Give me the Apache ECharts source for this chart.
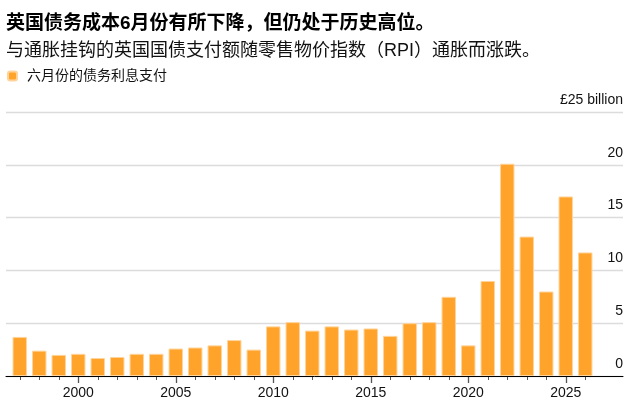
<!DOCTYPE html>
<html>
<head>
<meta charset="utf-8">
<script src="https://cdn.jsdelivr.net/npm/echarts@6/dist/echarts.min.js"></script>
<style>
  html, body { margin: 0; padding: 0; background: #fff; }
  #main { width: 640px; height: 414px; }
</style>
</head>
<body>
<div id="main"></div>
<script>
  // 六月份债务利息支付（十亿英镑）
  var years = ['1997', '1998', '1999', '2000', '2001', '2002', '2003', '2004', '2005', '2006',
    '2007', '2008', '2009', '2010', '2011', '2012', '2013', '2014', '2015', '2016',
    '2017', '2018', '2019', '2020', '2021', '2022', '2023', '2024', '2025', '2026']
  var interest = [3.7, 2.4, 2.0, 2.1, 1.7, 1.8, 2.1, 2.1, 2.6, 2.7,
    2.9, 3.4, 2.5, 4.7, 5.1, 4.3, 4.7, 4.4, 4.5, 3.8,
    5.0, 5.1, 7.5, 2.9, 9.0, 20.1, 13.2, 8.0, 17.0, 11.7]
  var yTicks = [0, 5, 10, 15, 20, 25]

  var font = '"Liberation Sans", "Noto Sans CJK SC", sans-serif'
  var orange = '#FFA32B'

  var chart = echarts.init(document.getElementById('main'))
  chart.setOption({
    animation: false,
    textStyle: { fontFamily: font },
    title: [
      {
        text: '英国债务成本6月份有所下降，但仍处于历史高位。',
        left: 6, top: 14, padding: 0,
        textStyle: { fontSize: 19, fontWeight: 'bold', color: '#000', fontFamily: font }
      },
      {
        text: '与通胀挂钩的英国国债支付额随零售物价指数（RPI）通胀而涨跌。',
        left: 6, top: 42, padding: 0,
        textStyle: { fontSize: 18, fontWeight: 'normal', color: '#111', fontFamily: font }
      }
    ],
    legend: {
      left: 7, top: 69, padding: 0,
      icon: 'roundRect', itemWidth: 9, itemHeight: 9,
      selectedMode: false,
      textStyle: { fontSize: 14, color: '#111', padding: [0, 0, 0, 5] },
      data: ['六月份的债务利息支付']
    },
    grid: [
      { left: 6, right: 17, top: 112, bottom: 38 },
      { left: 10, width: 585, top: 112, bottom: 38 }
    ],
    xAxis: [
      {
        gridIndex: 0, type: 'value', min: 0, max: 1, z: 5,
        axisLine: { show: true, lineStyle: { color: '#000', width: 1 } },
        axisTick: { show: false }, axisLabel: { show: false }, splitLine: { show: false }
      },
      {
        gridIndex: 1, type: 'category', data: years,
        axisLine: { show: false },
        axisTick: { show: true, alignWithLabel: true, interval: 0, length: 4, lineStyle: { color: '#555', width: 1 } },
        axisLabel: {
          interval: function (i, v) { return +v % 5 === 0 },
          margin: 10, fontSize: 14, color: '#111'
        }
      },
      {
        gridIndex: 1, type: 'category', data: years, position: 'bottom',
        axisLine: { show: false },
        axisTick: {
          show: true, alignWithLabel: true, length: 7,
          interval: function (i, v) { return +v % 5 === 0 },
          lineStyle: { color: '#555', width: 1.3 }
        },
        axisLabel: { show: false }
      }
    ],
    yAxis: [
      {
        gridIndex: 0, type: 'value', position: 'right', min: 0, max: 25, interval: 5,
        axisLine: { show: false }, axisTick: { show: false },
        splitLine: { show: true, lineStyle: { color: '#dcdcdc', width: 1.3 } },
        axisLabel: {
          inside: true, margin: 0, fontSize: 14, color: '#111',
          verticalAlign: 'bottom', lineHeight: 14, padding: [0, 0, 5, 0],
          formatter: function (v) { return v === yTicks[yTicks.length - 1] ? '£' + v + ' billion' : String(v) }
        }
      },
      {
        gridIndex: 1, type: 'value', min: 0, max: 25, interval: 5, show: false
      }
    ],
    series: [
      {
        name: '六月份的债务利息支付',
        type: 'bar',
        xAxisIndex: 1, yAxisIndex: 1,
        data: interest,
        barCategoryGap: '26%',
        itemStyle: { color: orange, borderColor: '#FFD49A', borderWidth: 1 }
      }
    ]
  })
</script>
</body>
</html>
